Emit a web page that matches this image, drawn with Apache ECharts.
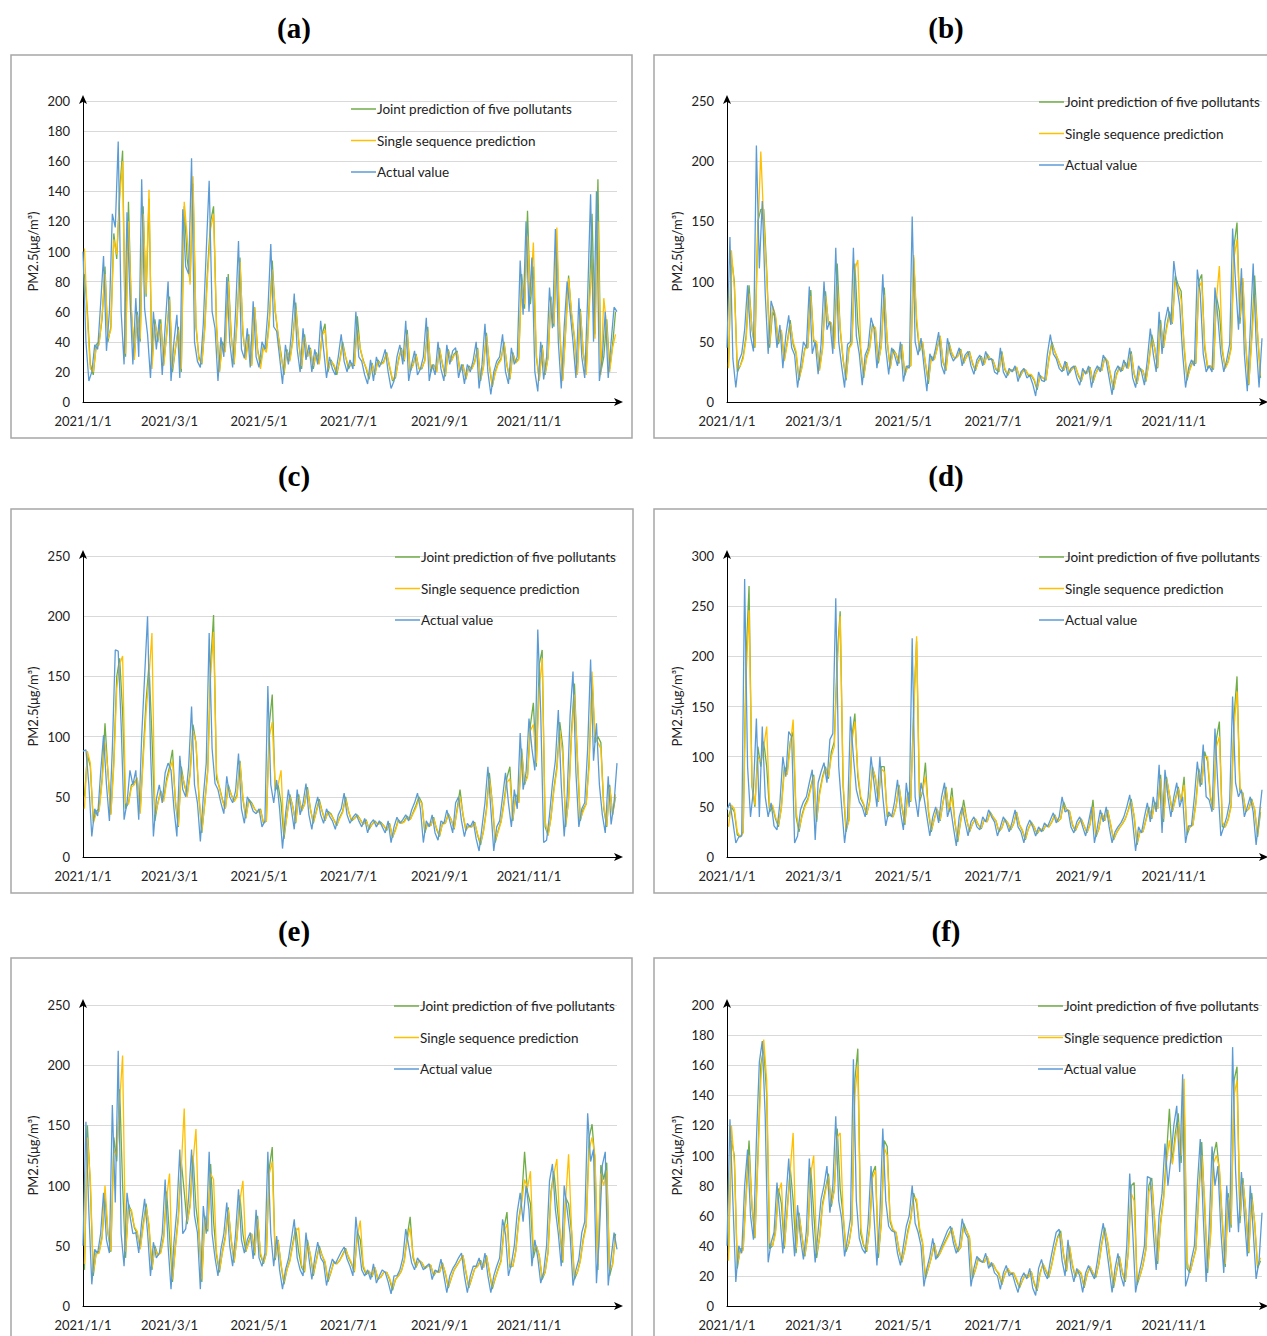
<!DOCTYPE html>
<html><head><meta charset="utf-8">
<script src="https://cdn.jsdelivr.net/npm/echarts@6/dist/echarts.min.js"></script>
<style>html,body{margin:0;padding:0;background:#fff}#c{width:1267px;height:1336px}</style>
</head><body><div id="c"></div>
<script>
// ---- categories / tick labels ----
const tickLabels = ['2021/1/1','2021/3/1','2021/5/1','2021/7/1','2021/9/1','2021/11/1'];
const seriesNames = ['Joint prediction of five pollutants','Single sequence prediction','Actual value'];
const panelTitles = ['(a)','(b)','(c)','(d)','(e)','(f)'];
const yMax = [200,250,250,300,250,200];
const yStep = [20,50,50,50,50,20];
// actual values: every 2nd day starting 2021/1/1 ; predictions: every 2nd day starting 2021/1/2
const aActual=[100,40,14,20,38,35,65,97,34,60,125,116,173,60,25,126,70,25,69,30,148,62,45,16,60,35,55,18,50,80,14,40,58,16,128,90,85,162,40,27,23,52,100,147,60,49,14,43,30,83,40,23,60,107,35,29,49,23,67,30,23,40,35,60,105,50,47,30,12,38,25,45,72,35,20,49,28,38,20,35,25,54,35,16,30,22,18,30,45,27,20,28,22,60,30,27,18,12,28,14,30,23,28,35,20,9,14,30,38,25,54,14,25,34,18,22,30,56,14,25,18,40,22,14,38,25,34,36,16,25,12,25,20,28,40,9,25,52,20,5,20,27,30,45,20,12,36,25,30,94,58,120,60,96,20,7,40,15,30,76,49,115,40,9,50,80,60,40,16,69,30,16,70,138,40,140,14,30,60,16,40,63,60];
const aJoint=[85,60,25,18,38,40,55,90,40,50,112,95,140,167,30,133,60,30,60,40,130,70,135,25,55,40,55,25,45,70,20,35,50,20,130,95,80,145,50,30,25,50,90,120,130,50,20,40,35,85,45,25,55,96,45,30,45,25,63,35,25,38,35,55,94,60,45,32,18,35,28,42,66,40,22,45,30,36,22,33,26,45,52,20,28,24,18,28,40,30,22,26,24,57,35,28,22,15,26,18,28,25,27,33,23,14,16,28,36,27,48,20,25,32,22,22,28,50,20,25,20,36,25,17,35,27,32,34,20,25,15,24,22,27,36,14,24,46,24,10,20,26,29,40,24,15,33,26,29,85,62,127,65,90,30,15,38,18,30,70,50,105,45,15,48,84,58,42,20,62,32,20,65,125,45,148,20,30,55,22,38,60];
const aSingle=[102,55,22,20,36,38,58,85,42,48,108,98,135,160,32,120,62,28,58,42,125,72,141,22,52,42,52,24,44,68,22,36,48,22,133,110,78,150,52,28,26,48,85,115,125,52,20,38,33,80,44,26,52,93,48,28,44,24,63,34,22,36,33,52,88,62,44,30,20,34,27,40,62,42,24,43,30,35,24,32,25,44,48,22,27,25,20,27,38,30,24,25,25,48,36,27,23,17,25,19,27,25,26,32,24,15,17,27,35,28,45,22,24,31,22,23,27,47,22,24,20,35,26,18,34,27,31,33,21,24,16,23,22,26,35,15,23,44,25,11,19,25,28,39,25,16,32,26,28,80,65,110,70,106,32,14,36,19,29,68,52,116,48,14,46,82,60,44,18,60,34,18,60,95,42,120,18,69,50,20,36,45];
const bActual=[45,137,36,12,34,40,60,97,55,42,213,111,167,90,40,84,75,45,64,28,55,72,45,39,12,30,50,45,96,40,50,23,48,100,60,67,40,128,50,30,12,48,50,128,55,40,14,39,45,70,61,28,50,106,45,23,45,39,30,50,17,30,28,154,50,39,53,30,9,40,34,45,58,30,23,53,40,34,38,45,30,39,42,30,23,35,39,30,42,35,36,25,23,45,25,20,28,25,30,17,25,28,20,22,15,5,25,18,17,40,56,40,36,28,25,34,22,28,30,20,14,28,23,30,12,25,30,25,39,34,20,6,25,30,25,35,28,45,20,12,30,25,14,35,61,40,25,75,40,67,79,64,117,97,80,40,12,28,35,30,110,90,40,25,30,25,95,70,40,25,35,48,144,100,60,111,40,9,60,115,50,12,53];
const bJoint=[30,120,100,25,30,38,55,97,60,45,150,160,160,110,45,75,70,48,58,35,50,68,48,40,18,30,45,45,93,50,48,28,45,92,65,65,45,115,60,35,18,45,50,115,65,42,20,38,45,65,60,32,48,95,50,28,44,40,32,48,22,30,30,120,65,42,50,32,15,38,35,45,55,33,26,50,40,36,38,44,32,38,42,32,26,34,38,31,40,36,35,27,25,42,27,22,27,26,29,20,25,27,22,22,18,10,22,20,18,36,50,42,36,30,26,33,24,28,30,22,17,26,24,29,16,24,29,26,37,34,22,10,23,29,26,33,28,42,23,15,28,26,17,33,56,45,28,68,45,62,75,65,105,97,92,45,18,28,34,32,100,106,45,28,30,27,88,75,42,28,34,46,130,149,65,100,45,14,55,105,55,20];
const bSingle=[28,126,95,28,30,36,52,90,62,46,140,208,150,105,48,80,72,50,60,34,48,65,50,42,20,28,44,46,88,52,50,26,44,88,66,66,44,97,62,36,20,44,48,110,118,45,22,36,44,62,62,34,46,89,52,28,42,40,33,47,24,29,30,122,70,44,50,33,18,37,35,44,55,34,27,48,41,36,38,43,33,37,41,33,27,33,37,31,39,36,34,28,26,40,28,23,27,26,29,21,25,27,23,23,19,12,21,20,19,35,48,42,36,30,27,32,25,28,29,23,18,26,24,28,17,24,28,26,36,34,23,12,22,28,27,32,28,40,24,16,27,26,18,32,52,45,29,65,46,60,72,66,100,95,85,48,20,27,33,33,95,100,48,30,30,28,85,113,45,28,33,44,120,135,70,103,48,15,50,89,58,22];
const cActual=[88,89,60,17,40,34,70,101,60,30,90,172,171,110,31,45,72,60,72,31,100,150,200,90,17,48,60,45,70,78,72,40,17,84,56,50,75,125,60,45,13,50,78,186,90,61,56,45,36,67,50,45,55,86,40,28,50,45,38,36,40,25,30,142,60,45,64,40,7,35,56,40,23,56,35,45,61,35,23,40,50,35,28,40,34,30,23,35,40,53,35,28,33,36,30,25,32,20,28,31,25,30,25,20,30,12,25,33,28,31,35,30,39,45,53,40,12,30,25,35,20,14,30,28,39,30,20,45,50,30,17,28,25,30,15,5,25,45,75,40,5,25,30,50,70,45,25,56,40,103,56,70,115,90,72,189,120,12,14,35,61,80,122,60,17,50,117,154,70,25,40,45,90,164,80,111,60,35,20,67,27,45,78];
const cJoint=[50,85,75,30,38,40,65,111,70,36,80,150,165,120,40,45,60,62,65,38,85,130,160,100,30,45,55,48,65,75,89,45,25,75,60,52,70,110,95,50,20,45,72,160,201,65,58,48,40,60,52,46,52,80,48,32,48,45,40,37,40,28,30,110,135,55,60,45,15,35,52,42,28,52,38,44,58,40,28,38,48,38,30,38,36,31,26,33,38,50,38,30,32,35,31,27,31,23,27,30,27,29,26,22,28,16,23,31,28,30,34,31,37,43,50,45,20,28,26,33,23,17,28,28,36,31,23,40,56,35,22,26,25,29,18,10,22,40,70,45,12,22,30,46,66,75,30,52,45,90,60,68,110,128,75,160,172,25,18,33,57,75,112,92,25,48,105,144,80,30,40,44,80,150,95,100,95,40,25,60,35,50];
const cSingle=[40,88,78,28,36,38,62,95,72,35,75,140,160,167,45,44,58,60,66,36,80,120,150,186,35,44,54,46,62,72,80,48,26,70,62,50,68,105,95,52,22,44,70,150,187,70,57,47,40,58,52,46,50,78,50,33,46,44,40,37,39,29,30,100,112,58,60,72,18,34,50,42,29,50,39,43,56,40,29,37,46,38,31,37,35,31,27,32,37,48,38,31,32,34,31,27,30,24,27,29,27,28,26,23,27,17,22,30,28,29,33,31,36,41,48,44,22,28,26,32,24,18,27,28,35,31,24,38,50,36,23,25,25,28,19,12,21,38,65,46,14,21,29,44,62,65,32,50,45,85,62,66,105,110,78,140,165,30,18,32,55,72,105,85,28,46,100,135,85,32,38,44,75,154,100,95,90,42,26,58,36,52];
const dActual=[47,54,35,14,20,21,277,90,40,67,138,40,130,60,40,54,31,27,54,100,80,125,120,14,21,47,55,60,74,87,17,74,85,94,74,117,123,258,90,50,14,40,140,100,67,55,50,40,60,100,74,50,100,60,31,45,40,55,77,45,27,74,50,218,60,40,74,60,40,21,40,50,34,60,74,40,50,30,11,40,50,35,21,35,40,30,27,40,35,47,40,35,21,30,40,34,25,35,47,30,25,14,30,37,30,21,30,25,34,30,37,44,34,40,60,45,47,30,24,35,40,30,21,35,50,14,30,47,35,50,30,14,25,30,34,40,50,62,35,6,30,24,40,54,35,60,45,92,24,87,60,40,60,74,50,60,14,31,31,60,95,70,112,60,57,45,128,70,21,30,40,55,160,74,60,67,40,50,60,45,12,40,67];
const dJoint=[40,50,45,22,20,25,200,270,70,50,110,90,115,90,45,50,38,30,50,90,85,115,125,40,25,42,52,58,70,82,35,65,80,90,78,105,115,200,245,70,25,38,120,143,80,58,52,42,55,90,78,55,90,90,40,42,40,50,72,50,32,65,55,150,215,55,65,94,45,25,38,48,36,55,70,45,69,35,15,36,57,38,25,33,38,32,28,37,35,45,40,36,25,29,38,34,27,33,45,32,26,17,28,35,30,23,28,26,32,30,35,42,35,38,55,47,46,32,26,33,38,31,24,33,57,20,28,44,36,47,32,17,24,29,33,38,47,58,40,12,26,25,37,50,38,55,48,82,35,80,62,45,58,70,55,80,22,30,32,55,88,72,105,95,58,47,118,135,30,30,38,52,140,180,65,64,45,48,58,47,20,45];
const dSingle=[30,52,48,25,20,24,180,246,75,52,100,95,110,130,48,52,40,32,48,85,82,110,137,45,28,40,50,56,68,80,38,62,78,88,80,100,110,190,240,75,28,36,115,135,85,60,53,43,54,88,80,56,88,85,42,43,40,50,70,52,34,62,56,140,220,60,65,80,48,27,37,48,37,54,68,46,60,36,18,36,50,38,26,33,38,32,29,37,35,44,40,36,26,29,37,34,28,33,44,32,27,18,28,34,30,24,28,27,32,30,35,41,36,38,52,47,46,33,27,33,37,31,25,32,50,22,28,43,37,46,33,18,24,29,33,38,46,55,42,14,25,25,36,48,39,52,48,78,38,78,63,46,56,68,56,72,25,30,32,52,85,74,100,100,60,48,110,120,35,30,37,50,130,165,70,62,46,48,56,48,22,50];
const eActual=[50,153,78,18,47,44,60,94,55,44,167,86,212,60,33,94,75,60,61,44,70,89,61,25,53,40,44,60,105,50,14,53,80,130,60,64,90,130,75,61,14,83,60,128,60,40,25,47,60,86,50,33,60,97,55,44,55,61,39,80,40,33,44,128,60,33,58,30,14,30,39,55,72,40,30,25,61,40,22,40,53,40,36,17,30,39,35,40,45,49,39,33,25,74,50,30,25,30,22,35,19,25,30,28,20,10,25,25,30,40,64,50,36,30,40,36,30,33,35,22,30,28,39,25,11,25,31,35,40,44,25,11,25,33,33,40,30,44,25,11,25,33,40,72,60,25,35,50,78,94,70,100,80,33,55,40,19,28,50,104,118,80,60,33,100,80,60,17,30,39,61,70,160,120,130,19,60,117,128,17,40,61,47];
const eJoint=[30,150,100,25,45,45,58,90,60,45,140,120,180,100,40,85,78,65,60,48,68,85,65,30,50,42,45,58,95,58,20,50,75,120,95,68,85,125,82,62,20,75,62,118,70,42,28,45,58,82,55,36,58,92,60,45,54,60,42,75,42,35,44,115,132,38,55,34,18,30,38,52,65,45,32,28,55,42,25,38,50,42,36,20,28,37,35,38,43,48,40,35,28,62,55,32,26,29,24,32,22,24,28,28,22,13,22,25,29,38,58,74,40,32,38,36,31,33,34,25,29,28,36,27,15,23,30,34,38,42,28,15,23,31,33,38,32,42,28,14,23,31,38,65,78,32,33,46,72,88,128,95,85,40,50,42,22,28,45,95,112,85,62,36,90,85,62,22,28,38,56,68,140,151,120,30,117,105,119,25,35,60];
const eSingle=[35,140,105,28,43,44,56,100,62,46,130,125,170,208,45,80,80,66,62,47,65,82,68,32,48,42,44,56,90,110,22,48,72,115,164,70,82,120,147,65,22,72,64,110,105,45,30,44,56,80,56,37,56,88,104,46,52,60,44,72,44,36,44,110,120,40,54,35,20,30,37,50,62,65,34,29,52,43,27,37,48,42,37,22,28,36,35,38,42,47,41,36,29,58,71,34,27,29,25,32,23,24,28,28,23,15,22,25,29,37,55,65,42,33,38,36,32,33,34,26,29,28,35,28,16,23,30,34,38,42,29,16,23,31,33,37,32,41,29,16,23,30,37,62,68,35,33,45,70,85,105,98,112,45,50,42,24,28,44,92,110,122,65,38,88,126,65,25,28,37,54,66,130,140,125,35,110,100,112,30,34,58];
const fActual=[40,124,70,16,40,35,80,104,60,44,110,162,176,126,29,42,49,82,60,35,70,98,60,33,67,45,31,50,98,55,29,50,71,80,93,62,80,126,70,58,33,45,58,164,70,45,38,35,55,93,60,27,60,118,70,53,50,49,35,27,40,53,60,80,55,49,40,13,25,33,45,31,35,40,45,50,53,42,35,40,58,49,45,13,25,33,30,29,35,25,29,22,20,11,22,27,20,22,15,9,18,22,18,25,12,7,25,31,22,18,30,40,49,51,30,20,44,25,16,25,20,9,22,27,22,18,30,44,55,40,25,9,25,35,20,13,40,88,50,9,20,29,40,86,85,50,24,60,75,108,80,98,120,133,89,154,13,20,31,40,80,111,60,16,50,106,80,93,50,22,80,49,172,90,49,89,60,33,80,50,18,30,62];
const fJoint=[35,110,100,25,38,38,75,110,65,45,100,160,172,140,38,40,50,78,68,38,65,92,70,35,62,46,33,48,92,62,32,46,68,78,88,66,78,118,78,60,36,42,55,150,171,48,40,36,52,88,93,32,56,110,106,56,50,49,37,29,38,50,58,75,68,50,42,18,25,32,42,32,35,40,44,48,52,43,36,39,55,50,45,18,24,32,30,29,33,26,28,24,21,14,21,25,21,22,17,12,17,21,19,23,15,10,22,28,23,19,28,38,46,50,34,23,40,27,19,24,21,12,21,26,22,19,28,42,52,42,28,12,23,33,22,16,36,80,82,14,20,27,38,80,85,55,28,56,72,100,131,95,115,128,95,140,25,22,30,38,75,109,65,22,48,100,109,90,55,26,75,52,150,159,55,85,62,35,75,55,25,30];
const fSingle=[30,120,95,28,36,37,72,100,68,46,95,150,177,150,42,40,48,75,82,40,62,90,115,38,60,47,34,47,88,100,35,45,66,76,86,68,76,112,115,62,38,42,54,140,160,52,41,37,50,85,90,35,55,105,100,58,51,49,38,30,37,48,57,72,71,52,43,20,25,32,41,33,35,39,43,47,51,44,37,39,52,50,46,20,24,31,30,29,33,27,28,24,22,15,21,25,22,22,18,13,17,21,19,23,16,11,21,28,24,20,27,37,45,48,35,24,40,28,20,24,22,13,21,26,22,20,28,41,50,43,29,14,23,32,23,17,35,75,70,16,20,27,37,76,80,57,30,54,70,95,110,94,110,122,100,151,30,22,30,37,72,100,70,25,46,95,100,92,58,28,72,54,140,150,60,82,64,36,71,56,27,32];

const actualSets=[aActual,bActual,cActual,dActual,eActual,fActual];
const jointSets=[aJoint,bJoint,cJoint,dJoint,eJoint,fJoint];
const singleSets=[aSingle,bSingle,cSingle,dSingle,eSingle,fSingle];

// ---- layout (positions only) ----
const layout=[
 {gx:83,gy:101,gw:534,box:[11,55,621,383],tx:294,ty:28,lx:346,ly:97},
 {gx:727,gy:101,gw:535,box:[654,55,630,383],tx:946,ty:28,lx:1034,ly:90},
 {gx:83,gy:556,gw:534,box:[11,509,622,384],tx:294,ty:476,lx:390,ly:545},
 {gx:727,gy:556,gw:535,box:[654,509,630,384],tx:946,ty:476,lx:1034,ly:545},
 {gx:83,gy:1005,gw:534,box:[11,958,621,400],tx:294,ty:931,lx:389,ly:994},
 {gx:727,gy:1005,gw:535,box:[654,958,630,400],tx:946,ty:931,lx:1033,ly:994}
];

const days=[];
for(let i=0;i<365;i++){const d=new Date(2021,0,1+i);days.push(d.getFullYear()+'/'+(d.getMonth()+1)+'/'+d.getDate());}

const FONT='Lato';
const colors=['#70AD47','#FFC000','#5B9BD5'];
const grid=[],xAxis=[],yAxis=[],series=[],legend=[],graphic=[];
layout.forEach((L,k)=>{
  grid.push({left:L.gx,top:L.gy,width:L.gw,height:301});
  xAxis.push({type:'category',gridIndex:k,data:days,boundaryGap:false,
    axisLine:{lineStyle:{color:'#000',width:1},symbol:['none','arrow'],symbolSize:[6,9],symbolOffset:[0,6]},
    axisTick:{show:false},
    axisLabel:{interval:(i,v)=>tickLabels.indexOf(v)>=0,fontFamily:FONT,fontSize:13,color:'#222',margin:12},
    splitLine:{show:false}});
  yAxis.push({type:'value',gridIndex:k,min:0,max:yMax[k],interval:yStep[k],
    name:'PM2.5(μg/m³)',nameLocation:'middle',nameGap:44,nameRotate:90,
    nameTextStyle:{fontFamily:FONT,fontSize:13,color:'#222'},
    axisLine:{show:true,lineStyle:{color:'#000',width:1},symbol:['none','arrow'],symbolSize:[6,9],symbolOffset:[0,6]},
    axisTick:{show:false},
    axisLabel:{fontFamily:FONT,fontSize:13,color:'#222',margin:13},
    splitLine:{lineStyle:{color:'#d9d9d9',width:1}}});
  const sets=[jointSets[k],singleSets[k],actualSets[k]];
  sets.forEach((arr,s)=>{
    const data = s<2 ? arr.map((v,j)=>[2*j+1,v]) : arr.map((v,j)=>[2*j,v]);
    series.push({type:'line',name:seriesNames[s],xAxisIndex:k,yAxisIndex:k,data:data,
      symbol:'none',color:colors[s],lineStyle:{width:1.3,color:colors[s]},z:2+s});
  });
  legend.push({data:seriesNames,orient:'vertical',left:L.lx,top:L.ly,icon:'rect',itemWidth:25,itemHeight:1.5,itemGap:17.5,
    textStyle:{fontFamily:FONT,fontSize:13.5,color:'#222',padding:[0,0,0,-4],lineHeight:14},selectedMode:false});
  graphic.push({type:'rect',shape:{x:L.box[0],y:L.box[1],width:L.box[2],height:L.box[3]},
    style:{fill:'none',stroke:'#a6a6a6',lineWidth:1.5},silent:true});
  graphic.push({type:'text',x:L.tx,y:L.ty,style:{text:panelTitles[k],font:'bold 29px "Liberation Serif"',fill:'#000',textAlign:'center',textVerticalAlign:'middle'}});
});

const chart=echarts.init(document.getElementById('c'),null,{renderer:'svg'});
chart.setOption({animation:false,backgroundColor:'#fff',grid,xAxis,yAxis,series,legend,graphic});
</script></body></html>
